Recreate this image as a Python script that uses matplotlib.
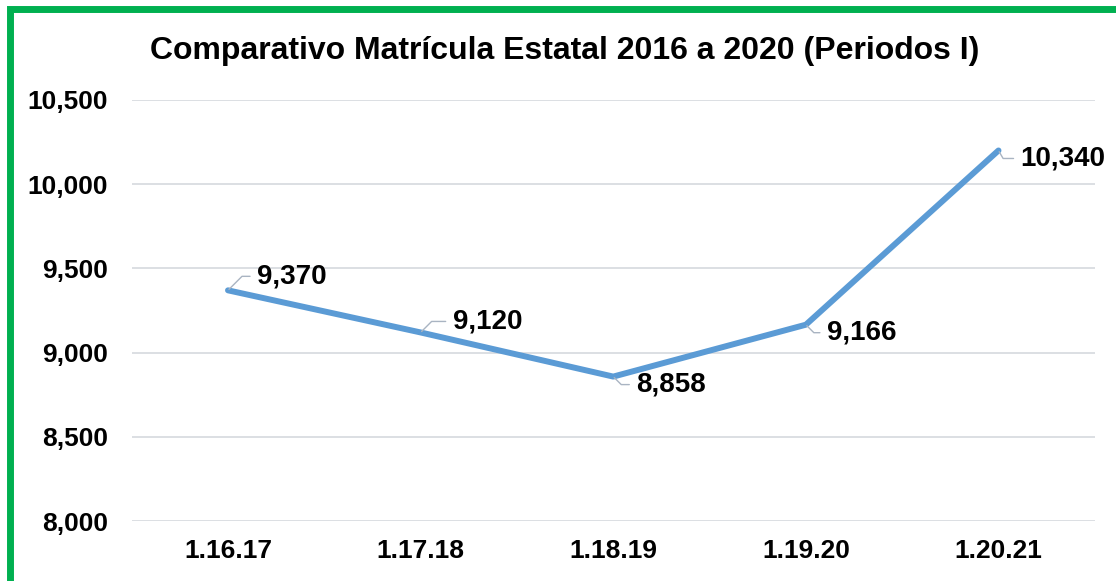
import matplotlib
matplotlib.use("Agg")
import matplotlib.pyplot as plt
from matplotlib.patches import Rectangle

categories = ["1.16.17", "1.17.18", "1.18.19", "1.19.20", "1.20.21"]
values = [9370, 9120, 8858, 9166, 10200]
value_labels = ["9,370", "9,120", "8,858", "9,166", "10,340"]
yticks = [8000, 8500, 9000, 9500, 10000, 10500]
ytick_labels = ["8,000", "8,500", "9,000", "9,500", "10,000", "10,500"]
title = "Comparativo Matrícula Estatal 2016 a 2020 (Periodos I)"

plt.rcParams['font.family'] = ['Liberation Sans', 'DejaVu Sans']

fig = plt.figure(figsize=(11.16, 5.81), dpi=100)
ax = fig.add_axes([0.118, 0.103, 0.863, 0.725])

x = list(range(len(categories)))
ax.plot(x, values, color="#5B9BD5", linewidth=4.3, solid_capstyle="round", zorder=3)

ax.set_xlim(-0.5, 4.5)
ax.set_ylim(8000, 10500)
ax.set_yticks(yticks)
ax.set_yticklabels(ytick_labels, fontsize=19, fontweight="bold")
ax.set_xticks(x)
ax.set_xticklabels(categories, fontsize=19, fontweight="bold")
ax.tick_params(axis="y", length=0, pad=17)
ax.tick_params(axis="x", length=0, pad=13)
ax.grid(axis="y", color="#D9DCE1", linewidth=1.3)
ax.set_axisbelow(True)
for s in ax.spines.values():
    s.set_visible(False)

# label offsets in pixels (dx, dy) and leader corner angles
offsets = [(29, 14, 45), (32, 11, 45), (23, -8, -45), (21, -8, -45), (22, -8, -60)]
for xi, v, lab, (dx, dy, ang) in zip(x, values, value_labels, offsets):
    ax.annotate(lab, xy=(xi, v), xytext=(dx, dy), textcoords="offset pixels",
                ha="left", va="center", fontsize=20, fontweight="bold", color="black",
                arrowprops=dict(arrowstyle="-", color="#A9B4C2", lw=1.0,
                                shrinkA=3, shrinkB=1,
                                connectionstyle=f"angle,angleA=0,angleB={ang},rad=0"),
                zorder=4)

fig.text(0.506, 0.912, title, ha="center", va="center", fontsize=23, fontweight="bold")

border = Rectangle((10 / 1116, -0.2), 1.5, (581 - 8.5) / 581 + 0.2, transform=fig.transFigure,
                   fill=False, edgecolor="#00B050", linewidth=5, clip_on=False)
fig.patches.append(border)

fig.savefig("out.png", dpi=100)
